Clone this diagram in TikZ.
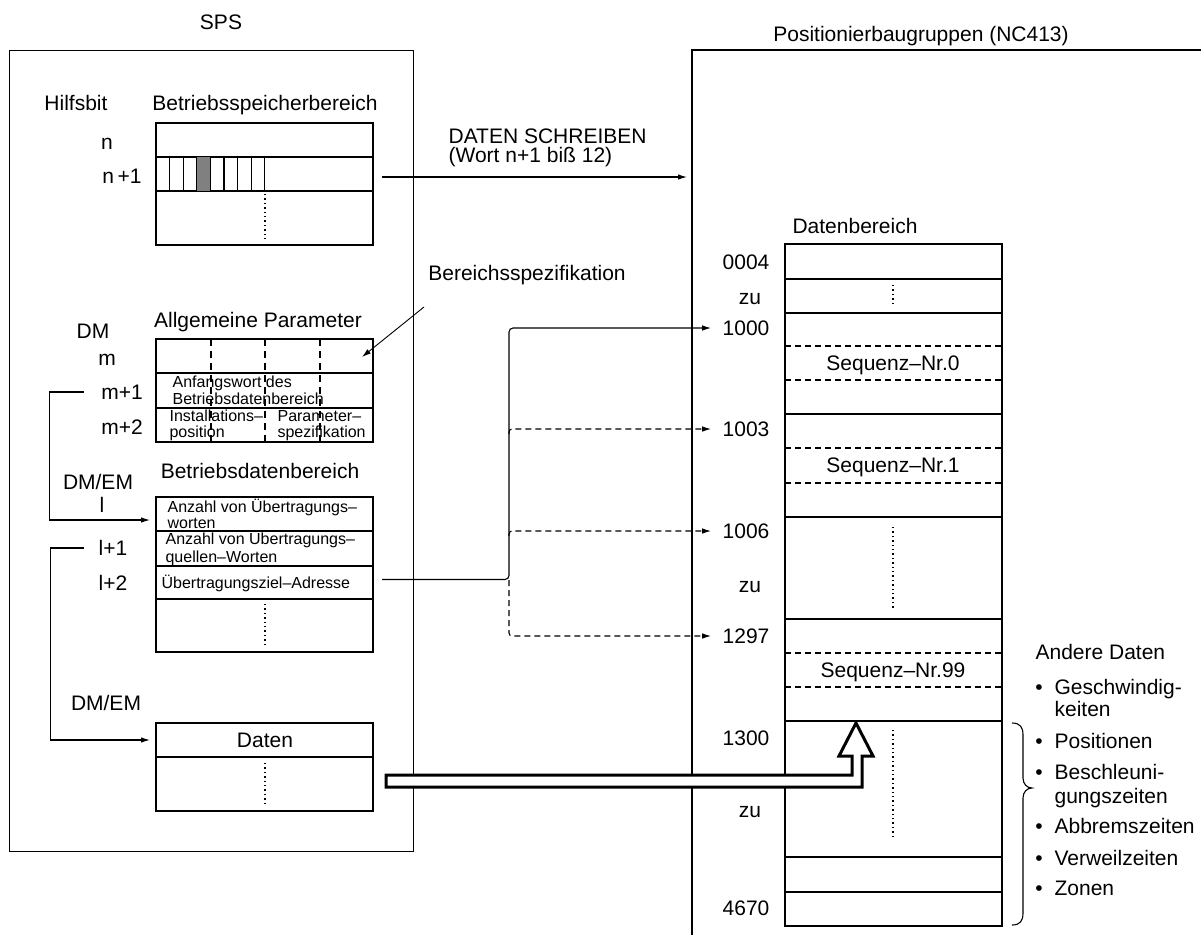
\documentclass[tikz,border=0pt]{standalone}
\usepackage{fontspec}
\setmainfont{Liberation Sans}
\usetikzlibrary{arrows.meta}
\newcommand\szbig{\fontsize{21}{24}\selectfont}
\newcommand\szsmall{\fontsize{16}{18}\selectfont}
\begin{document}
\begin{tikzpicture}[x=1pt,y=-1pt, line width=1.2pt,
  cell/.style={draw, anchor=north west, minimum width=217pt, inner sep=0pt, outer sep=0pt},
  lb/.style={inner sep=0pt, font=\szbig, text height=15pt, text depth=0pt},
  ls/.style={inner sep=0pt, font=\szsmall, text height=11.5pt, text depth=0pt, anchor=west},
  arr/.style={-{Latex[length=9pt,width=5.5pt]}, line width=1.1pt},
  dots/.style={line width=1.6pt, dash pattern=on 1.4pt off 3pt},
  dsh/.style={line width=1.1pt, dash pattern=on 6pt off 4pt},
  vdsh/.style={line width=1.1pt, dash pattern=on 7pt off 5pt}]
\useasboundingbox (0,0) rectangle (1201,935);

% ---------- SPS ----------
\node[draw, anchor=north west, minimum width=404pt, minimum height=801pt, inner sep=0pt] (sps) at (9,50) {};
\node[lb] (tsps) at (221,22) {SPS};
\node[lb] (thilf) at (76,103) {Hilfsbit};
\node[lb] (tbsb) at (265,103) {Betriebsspeicherbereich};
\node[lb] (tn) at (107,142) {n};
\node[lb] (tn1) at (122,176) {n\,+1};

\node[cell, minimum height=34pt] (bn) at (156,123) {};
\node[cell, minimum height=34pt] (bn1) at (156,157) {};
\node[cell, minimum height=54pt] (bn2) at (156,191) {};
\fill[gray] (196.9,157) rectangle (210.5,191);
\foreach \i in {1,...,8} \draw ({156+\i*13.6},157) -- ({156+\i*13.6},191);
\draw[dots] (265,194) -- (265,239);

% Allgemeine Parameter
\node[lb] (tdm) at (93,331) {DM};
\node[lb] (tallg) at (258,320) {Allgemeine Parameter};
\node[lb] (tm) at (107,358) {m};
\node[lb] (tm1) at (122,392) {m+1};
\node[lb] (tm2) at (122,427) {m+2};
\node[cell, minimum height=34pt] (am) at (156,339) {};
\node[cell, minimum height=35pt] (am1) at (156,373) {};
\node[cell, minimum height=34pt] (am2) at (156,408) {};
\foreach \x in {211,265,320} \draw[vdsh] (\x,339) -- (\x,442);
\node[ls] at (172,382) {Anfangswort des};
\node[ls] at (172,399) {Betriebsdatenbereich};
\node[ls] at (169,416) {Installations–};
\node[ls] at (169,432) {position};
\node[ls] at (277,416) {Parameter–};
\node[ls] at (277,432) {spezifikation};

% Betriebsdatenbereich
\node[lb] (tdmem) at (98,482) {DM/EM};
\node[lb] (tbdb) at (260,471) {Betriebsdatenbereich};
\node[lb] (tl) at (102,505) {l};
\node[lb] (tl1) at (113,548) {l+1};
\node[lb] (tl2) at (113,583) {l+2};
\node[cell, minimum height=34pt] (bd1) at (156,497) {};
\node[cell, minimum height=35pt] (bd2) at (156,531) {};
\node[cell, minimum height=33pt] (bd3) at (156,566) {};
\node[cell, minimum height=53pt] (bd4) at (156,599) {};
\node[ls] at (167,507) {Anzahl von Übertragungs–};
\node[ls] at (167,523) {worten};
\node[ls] at (165,539) {Anzahl von Übertragungs–};
\node[ls] at (165,557) {quellen–Worten};
\node[ls] at (161,583) {Übertragungsziel–Adresse};
\draw[dots] (265,604) -- (265,646);

% Daten
\node[lb] (tdmem2) at (106,703) {DM/EM};
\node[cell, minimum height=34pt] (dat1) at (156,723) {};
\node[cell, minimum height=54pt] (dat2) at (156,757) {};
\node[lb] (tdat) at (265,740) {Daten};
\draw[dots] (265,763) -- (265,805);

% left connectors
\draw[arr] ([xshift=-17pt]tm1.west) -- ++(-34,0) |- ([xshift=-6pt,yshift=-6pt]bd1.west);
\draw[arr] ([xshift=-14pt]tl1.west) -- ++(-34,0) |- ([xshift=-6pt]dat1.west);

% ---------- Positionierbaugruppen ----------
\node[lb] (tpos) at (921,34) {Positionierbaugruppen (NC413)};
\draw (1201,50) -- (692,50) -- (692,935);
\node[lb] (tdb) at (855,226) {Datenbereich};

\node[cell, minimum height=35pt] (c1) at (785,244) {};
\node[cell, minimum height=34pt] (c2) at (785,279) {};
\node[cell, minimum height=101pt] (c3) at (785,313) {};
\node[cell, minimum height=103pt] (c4) at (785,414) {};
\node[cell, minimum height=102pt] (c5) at (785,517) {};
\node[cell, minimum height=102pt] (c6) at (785,619) {};
\node[cell, minimum height=136pt] (c7) at (785,721) {};
\node[cell, minimum height=35pt] (c8) at (785,857) {};
\node[cell, minimum height=34pt] (c9) at (785,892) {};
\foreach \y in {346,380,448,483,653,687} \draw[dsh] (785,\y) -- (1002,\y);
\draw[dots] (893,285) -- (893,305);
\draw[dots] (893,527) -- (893,608);
\draw[dots] (893,730) -- (893,838);

\node[lb] at (893,363) {Sequenz–Nr.0};
\node[lb] at (893,465) {Sequenz–Nr.1};
\node[lb] at (893,670) {Sequenz–Nr.99};

\node[lb, anchor=east] (t0004) at (770,262) {0004};
\node[lb] (tzu1) at (750,297) {zu};
\node[lb, anchor=east] (t1000) at (770,328) {1000};
\node[lb, anchor=east] (t1003) at (770,429) {1003};
\node[lb, anchor=east] (t1006) at (770,531) {1006};
\node[lb] (tzu2) at (750,585) {zu};
\node[lb, anchor=east] (t1297) at (770,636) {1297};
\node[lb, anchor=east] (t1300) at (770,738) {1300};
\node[lb] (tzu3) at (750,810) {zu};
\node[lb, anchor=east] (t4670) at (770,908) {4670};

% DATEN SCHREIBEN
\node[lb, anchor=west] (tds) at (448,136) {DATEN SCHREIBEN};
\node[lb, anchor=west] (tds2) at (448,155) {(Wort n+1 biß 12)};
\coordinate (ds1) at (687,177);
\draw[arr] ([xshift=9pt,yshift=-3pt]bn1.east) -- (ds1);

% Bereichsspezifikation
\node[lb] (tbs) at (527,273) {Bereichsspezifikation};
\coordinate (bs0) at (424,307);
\coordinate (bs1) at (362,357);
\draw[arr, line width=0.9pt] (bs0) -- (bs1);

% address arrows
\coordinate (tz0) at ([xshift=9pt,yshift=3pt]bd3.east);
\draw[arr, rounded corners=4pt] (tz0) -- (509,579.5) -- (509,328) -- ([xshift=-11pt]t1000.west);
\draw[arr, dsh, rounded corners=3pt] (509,434) -- (509,429) -- ([xshift=-11pt]t1003.west);
\draw[arr, dsh, rounded corners=3pt] (509,536) -- (509,531) -- ([xshift=-11pt]t1006.west);
\draw[arr, dsh, rounded corners=3pt] (509,580) -- (509,636) -- ([xshift=-11pt]t1297.west);

% hollow arrow
\draw[line width=3pt, fill=white, line join=miter]
  (386,775) -- (852,775) -- (852,756) -- (839,756) -- (856,723) -- (873,756)
  -- (862,756) -- (862,787) -- (386,787) -- cycle;

% brace
\draw[line width=1.1pt] (1012,723) .. controls (1020,723) and (1023,727) .. (1023,735)
  -- (1023,778) .. controls (1023,784) and (1027,788) .. (1032,788)
  .. controls (1027,788) and (1023,792) .. (1023,798)
  -- (1023,913) .. controls (1023,921) and (1020,925) .. (1012,925);

% Andere Daten
\node[lb, anchor=west] (tad) at (1035,652) {Andere Daten};
\foreach \y/\t in {687/Geschwindig-, 741/Positionen, 772/Beschleuni-, 826/Abbremszeiten, 858/Verweilzeiten, 888/Zonen} {
  \node[lb] at (1039,\y) {•};
  \node[lb, anchor=west] at (1054,\y) {\t};
}
\node[lb, anchor=west] at (1054,709) {keiten};
\node[lb, anchor=west] at (1054,796) {gungszeiten};
\end{tikzpicture}
\end{document}
